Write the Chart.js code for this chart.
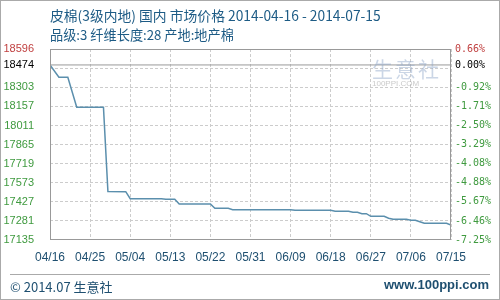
<!DOCTYPE html>
<html>
<head>
<meta charset="utf-8">
<script src="https://cdn.jsdelivr.net/npm/chart.js@4.4.1/dist/chart.umd.min.js"></script>
<style>
    html, body { margin: 0; padding: 0; background: #fff; }
    #wrap { position: relative; width: 500px; height: 300px; overflow: hidden; }
    #c { position: absolute; left: 0; top: 0; }
    .txt { position: absolute; white-space: nowrap; font-family: "Noto Sans CJK SC", "Liberation Sans", sans-serif; }
    #title { left: 50px; top: 5px; font-size: 13.8px; color: #1d5b85; }
    #sub { left: 50px; top: 25px; font-size: 13.2px; color: #1d5b85; }
    #copy { left: 10px; top: 277px; font-size: 13px; color: #1e4f70; }
    #site { right: 11px; top: 277px; font-size: 13px; font-weight: bold; color: #1e4f70; font-family: "Liberation Sans", sans-serif; }
    #foot { position: absolute; left: 10px; top: 274px; width: 480px; height: 1px; background: #aaa; }
    #wm1 { left: 372px; top: 53px; font-size: 21px; color: rgba(140, 165, 200, 0.45); letter-spacing: 2px; }
    #wm2 { left: 372px; top: 79px; font-size: 8px; color: rgba(150, 150, 150, 0.5); font-family: "Liberation Sans", sans-serif; }
    #border { position: absolute; left: 0; top: 0; width: 500px; height: 300px; box-sizing: border-box; border: 1px solid #aaa; pointer-events: none; }
</style>
</head>
<body>
<div id="wrap">
    <canvas id="c" width="500" height="300"></canvas>
    <div class="txt" id="wm1">生意社</div>
    <div class="txt" id="wm2">100PPI.COM</div>
    <div class="txt" id="title">皮棉(3级内地) 国内 市场价格 2014-04-16 - 2014-07-15</div>
    <div class="txt" id="sub">品级:3 纤维长度:28 产地:地产棉</div>
    <div id="foot"></div>
    <div class="txt" id="copy">© 2014.07 生意社</div>
    <div class="txt" id="site">www.100ppi.com</div>
    <div id="border"></div>
</div>
<script>
// days since 2014-04-16 where the price changes
const days = [0, 2, 4, 6, 12, 13, 17, 18, 25, 26, 28, 29, 36, 37, 40, 41, 54, 55, 63, 64, 67, 68, 69, 70, 71, 72, 75, 76, 77, 80, 81, 82, 83, 84, 89, 90];
const prices = [18474, 18380, 18380, 18150, 18150, 17506, 17505, 17451, 17451, 17446, 17446, 17410, 17410, 17377, 17377, 17367, 17367, 17362, 17362, 17355, 17355, 17347, 17347, 17336, 17336, 17316, 17316, 17301, 17293, 17293, 17286, 17286, 17275, 17263, 17263, 17250];

const basePrice = 18474;
const xTickDays = [0, 9, 18, 27, 36, 45, 54, 63, 72, 81, 90];
const xLabels = ['04/16', '04/25', '05/04', '05/13', '05/22', '05/31', '06/09', '06/18', '06/27', '07/06', '07/15'];
const yTicks = [17135, 17281, 17427, 17573, 17719, 17865, 18011, 18157, 18303, 18450, 18474, 18596];
const yLabels = ['17135', '17281', '17427', '17573', '17719', '17865', '18011', '18157', '18303', '', '18474', '18596'];
const pctLabels = ['-7.25%', '-6.46%', '-5.67%', '-4.88%', '-4.08%', '-3.29%', '-2.50%', '-1.71%', '-0.92%', '', '0.00%', '0.66%'];

const GREEN = '#3f9a3f';
const RED = '#c04040';

function labelColor(ctx) {
    const v = ctx.tick.value;
    if (v === 18596) return RED;
    if (v === basePrice) return '#000';
    return GREEN;
}

function gridColor(ctx) {
    const v = ctx.tick ? ctx.tick.value : null;
    if (v === basePrice || v === 17135 || v === 18596) return 'rgba(0,0,0,0)';
    return '#cccccc';
}

// frame around the plot area
const framePlugin = {
    id: 'frame',
    afterDatasetsDraw(chart) {
        const a = chart.chartArea;
        const ctx = chart.ctx;
        ctx.save();
        ctx.strokeStyle = '#999';
        ctx.lineWidth = 1;
        ctx.strokeRect(Math.round(a.left) + 0.5, Math.round(a.top) + 0.5, Math.round(a.right - a.left) - 1, Math.round(a.bottom - a.top) - 1);
        ctx.restore();
    }
};

Chart.defaults.font.family = 'Liberation Sans';

new Chart(document.getElementById('c').getContext('2d'), {
    type: 'line',
    data: {
        datasets: [{
            data: days.map((d, i) => ({ x: d, y: prices[i] })),
            borderColor: '#5b8fad',
            borderWidth: 1.5,
            pointRadius: 0,
            tension: 0,
            fill: false,
            order: 1
        }, {
            // base price line (0.00%)
            data: [{ x: 0, y: basePrice }, { x: 90, y: basePrice }],
            borderColor: '#999',
            borderWidth: 1,
            pointRadius: 0,
            fill: false,
            order: 2
        }]
    },
    options: {
        responsive: false,
        animation: false,
        layout: { padding: { top: 49, left: 0, right: 0, bottom: 0 } },
        plugins: {
            legend: { display: false },
            title: { display: false },
            tooltip: { enabled: false }
        },
        scales: {
            x: {
                type: 'linear',
                min: 0,
                max: 90,
                afterBuildTicks: s => { s.ticks = xTickDays.map(v => ({ value: v })); },
                afterFit: s => { s.height = 60; },
                grid: { color: '#cccccc', drawTicks: false },
                border: { display: false, dash: [3, 2] },
                ticks: {
                    autoSkip: false,
                    maxRotation: 0,
                    padding: 10,
                    color: '#1e4f70',
                    font: { size: 12 },
                    callback: (v) => xLabels[xTickDays.indexOf(v)]
                }
            },
            y: {
                type: 'linear',
                position: 'left',
                min: 17135,
                max: 18596,
                afterBuildTicks: s => { s.ticks = yTicks.map(v => ({ value: v })); },
                afterFit: s => { s.width = 50; },
                grid: { color: gridColor, drawTicks: false },
                border: { display: false, dash: [3, 2] },
                ticks: {
                    autoSkip: false,
                    padding: 16,
                    color: labelColor,
                    font: { size: 11 },
                    callback: (v) => yLabels[yTicks.indexOf(v)]
                }
            },
            y1: {
                type: 'linear',
                position: 'right',
                min: 17135,
                max: 18596,
                afterBuildTicks: s => { s.ticks = yTicks.map(v => ({ value: v })); },
                afterFit: s => { s.width = 49; },
                grid: { drawOnChartArea: false, drawTicks: false },
                border: { display: false },
                ticks: {
                    autoSkip: false,
                    padding: 4,
                    color: labelColor,
                    font: { family: 'DejaVu Sans Mono', size: 10 },
                    callback: (v) => pctLabels[yTicks.indexOf(v)]
                }
            }
        }
    },
    plugins: [framePlugin]
});
</script>
</body>
</html>
